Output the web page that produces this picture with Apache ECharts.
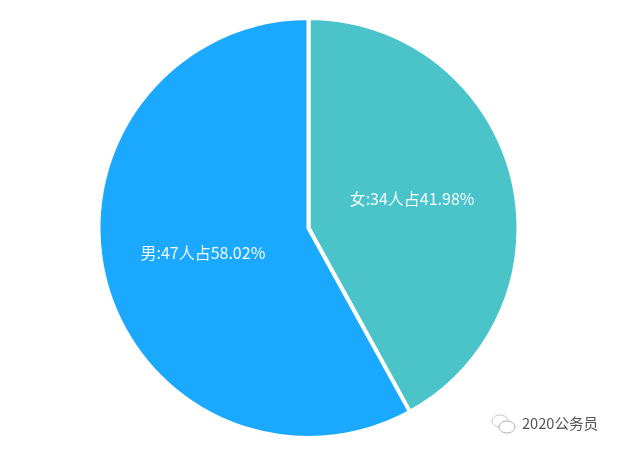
<!DOCTYPE html>
<html><head><meta charset="utf-8">
<style>html,body{margin:0;padding:0;background:#fff}#c{width:618px;height:451px}</style>
<script src="https://cdn.jsdelivr.net/npm/echarts@6/dist/echarts.min.js"></script></head>
<body><div id="c"></div>
<script>
const names = ['女', '男'];
const counts = [34, 47];
const percents = ['41.98', '58.02'];
const colors = ['#4AC3C9', '#1AA9FF'];
const chart = echarts.init(document.getElementById('c'), null, {renderer:'canvas'});
chart.setOption({
  animation:false,
  graphic:[
    {type:'ellipse',shape:{cx:500,cy:421,rx:8,ry:6},style:{fill:'#fff',stroke:'#c4c4c4',lineWidth:1}},
    {type:'ellipse',shape:{cx:507,cy:427,rx:8,ry:6},style:{fill:'#fff',stroke:'#aaaaaa',lineWidth:1}},
    {type:'text',x:522,y:416,style:{text:'2020公务员',font:'14.6px "Noto Sans CJK SC"',fill:'#555'}}
  ],
  series:[{
    type:'pie',center:[308.5,228],radius:[0,210],startAngle:90,clockwise:true,
    itemStyle:{borderColor:'#fff',borderWidth:4},
    label:{position:'inside',color:'#f2fbff',fontSize:16,fontFamily:'"Noto Sans CJK SC"',offset:[-1,-2],
      formatter:p=>p.name+':'+counts[p.dataIndex]+'人占'+percents[p.dataIndex]+'%'},
    labelLine:{show:false},
    data:names.map((n,i)=>({name:n,value:counts[i],itemStyle:{color:colors[i]}}))
  }]
});
</script></body></html>
